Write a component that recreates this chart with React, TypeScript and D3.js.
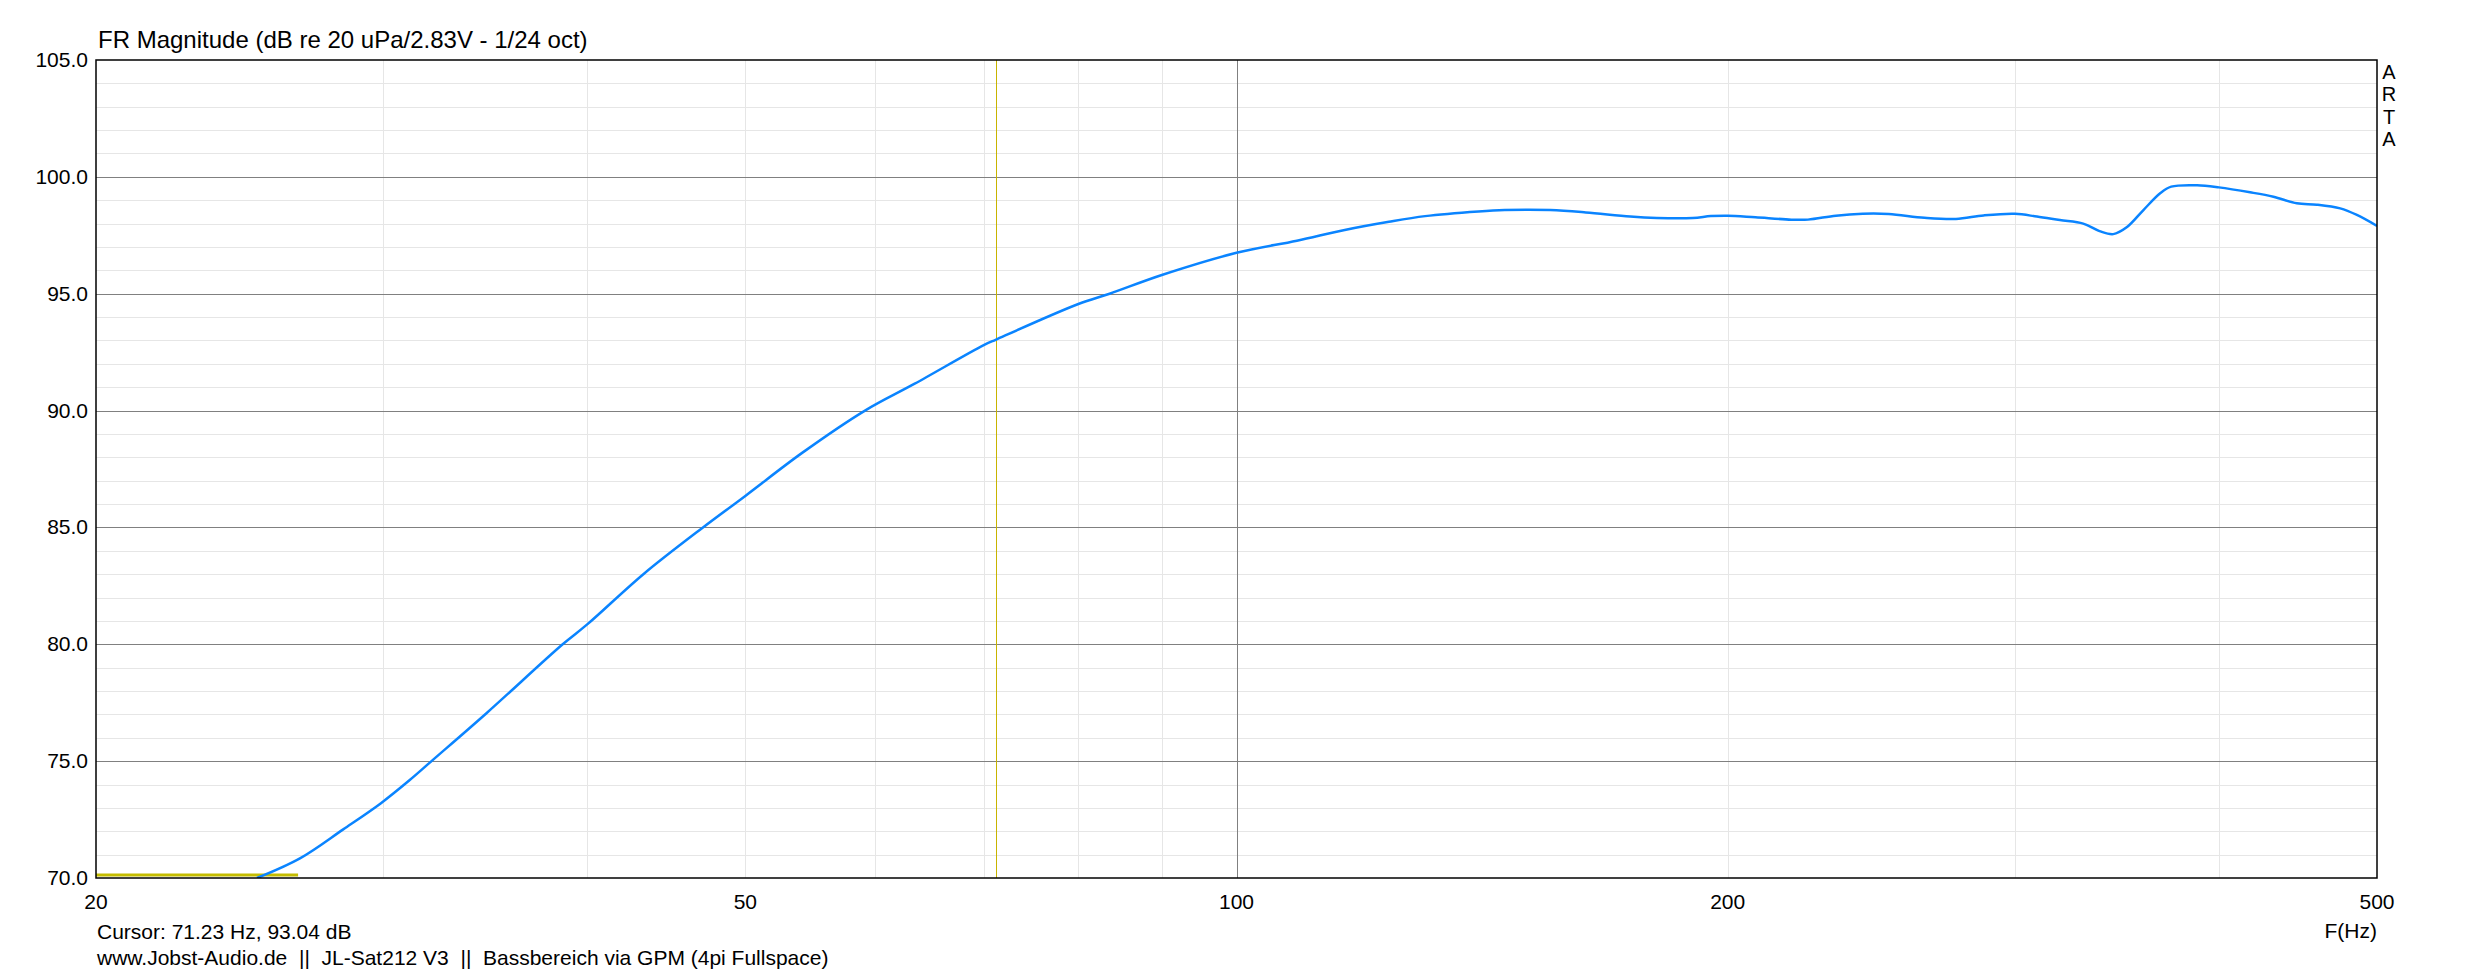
import React from "react";
import * as d3 from "d3";

const freqs = [25.1, 26.67, 28.35, 29.9, 31.14, 32.11, 34.7, 38.64, 40, 43.3, 47.1, 50, 54.2, 59.2, 63.5, 70, 71.23, 80, 83.6, 90, 100, 108.9, 116.5, 124, 130.5, 140.7, 146, 155.7, 163.7, 174.3, 181, 190.4, 195.3, 200, 208, 218.8, 224, 233, 242, 251, 264, 276, 287, 300, 309.4, 319.6, 330.3, 338, 344.6, 351.2, 359.6, 368.2, 374, 387.9, 400, 418, 432, 446.5, 459.3, 474.7, 486, 500];
const spl = [70.0, 70.84, 72.08, 73.2, 74.19, 75.0, 77.05, 80.0, 80.85, 83.0, 85.0, 86.35, 88.2, 90.0, 91.15, 92.8, 93.04, 94.56, 95.0, 95.8, 96.75, 97.27, 97.73, 98.08, 98.32, 98.52, 98.58, 98.58, 98.48, 98.3, 98.24, 98.24, 98.32, 98.34, 98.27, 98.17, 98.17, 98.34, 98.42, 98.41, 98.25, 98.2, 98.35, 98.42, 98.3, 98.15, 98.0, 97.68, 97.55, 97.84, 98.58, 99.3, 99.58, 99.64, 99.55, 99.34, 99.15, 98.87, 98.81, 98.65, 98.37, 97.9];

const xTickLabels = [20, 50, 100, 200, 500];
const xMajorGrid = [100];
const xMinorGrid = [30, 40, 50, 60, 70, 80, 90, 200, 300, 400];
const yTickLabels = [70, 75, 80, 85, 90, 95, 100, 105];
const yMinorGrid = d3.range(71, 105);
const cursorFreq = [71.23];
const cursorBandFreqs = [20, 26.6];
const cursorBandLevel = [70.13];
const sideLetters = ["A", "R", "T", "A"];

const title = "FR Magnitude (dB re 20 uPa/2.83V - 1/24 oct)";
const cursorText = "Cursor: 71.23 Hz, 93.04 dB";
const footerText = "www.Jobst-Audio.de  ||  JL-Sat212 V3  ||  Bassbereich via GPM (4pi Fullspace)";
const xAxisName = "F(Hz)";

const W = 2473, H = 978;
const L = 96, R = 2377, T = 60, B = 878;
const FONT = "'Liberation Sans', Arial, sans-serif";

export default function App() {
  const x = d3.scaleLog().domain([20, 500]).range([L, R]);
  const y = d3.scaleLinear().domain([70, 105]).range([B, T]);
  const pts: [number, number][] = freqs.map((f, i) => [f, spl[i]]);
  const line = d3
    .line<[number, number]>()
    .x((d) => x(d[0]))
    .y((d) => y(d[1]))
    .curve(d3.curveCatmullRom.alpha(0.5));
  const isMajorY = (v: number) => v % 5 === 0;

  return (
    <svg width={W} height={H} style={{ position: "absolute", left: 0, top: 0, background: "#fff" }} fontFamily={FONT}>
      <defs>
        <clipPath id="plot">
          <rect x={L} y={T} width={R - L} height={B - T} />
        </clipPath>
      </defs>
      <rect x={0} y={0} width={W} height={H} fill="#fff" />
      {yMinorGrid.filter((v) => !isMajorY(v)).map((v) => (
        <line key={"ym" + v} x1={L} x2={R} y1={Math.round(y(v)) + 0.5} y2={Math.round(y(v)) + 0.5} stroke="#e6e6e6" strokeWidth={1} />
      ))}
      {xMinorGrid.map((f) => (
        <line key={"xm" + f} x1={Math.round(x(f)) + 0.5} x2={Math.round(x(f)) + 0.5} y1={T} y2={B} stroke="#e6e6e6" strokeWidth={1} />
      ))}
      {yTickLabels.filter((v) => v > 70 && v < 105).map((v) => (
        <line key={"yM" + v} x1={L} x2={R} y1={Math.round(y(v)) + 0.5} y2={Math.round(y(v)) + 0.5} stroke="#808080" strokeWidth={1} />
      ))}
      {xMajorGrid.map((f) => (
        <line key={"xM" + f} x1={Math.round(x(f)) + 0.5} x2={Math.round(x(f)) + 0.5} y1={T} y2={B} stroke="#808080" strokeWidth={1} />
      ))}
      {cursorFreq.map((f) => (
        <line key={"cur" + f} x1={Math.round(x(f)) + 0.5} x2={Math.round(x(f)) + 0.5} y1={T} y2={B} stroke="#c8b400" strokeWidth={1} />
      ))}
      <line x1={x(cursorBandFreqs[0])} x2={x(cursorBandFreqs[1])} y1={y(cursorBandLevel[0])} y2={y(cursorBandLevel[0])} stroke="#c4bc00" strokeWidth={3} />
      <path d={line(pts) || ""} fill="none" stroke="#0a84ff" strokeWidth={2.5} clipPath="url(#plot)" strokeLinejoin="round" />
      <rect x={L} y={T} width={R - L} height={B - T} fill="none" stroke="#000" strokeWidth={1.5} />
      <text x={98} y={48} fontSize={24} fill="#000">{title}</text>
      {yTickLabels.map((v) => (
        <text key={"yl" + v} x={88} y={y(v) + 7} fontSize={21} textAnchor="end" fill="#000">{v.toFixed(1)}</text>
      ))}
      {xTickLabels.map((f) => (
        <text key={"xl" + f} x={x(f)} y={909} fontSize={21} textAnchor="middle" fill="#000">{f}</text>
      ))}
      <text x={R} y={938} fontSize={21} textAnchor="end" fill="#000">{xAxisName}</text>
      <text x={97} y={939} fontSize={21} fill="#000">{cursorText}</text>
      <text x={97} y={965} fontSize={21} fill="#000" style={{ whiteSpace: "pre" }}>{footerText}</text>
      {sideLetters.map((c, i) => (
        <text key={"s" + i} x={2389} y={79 + i * 22.3} fontSize={20} textAnchor="middle" fill="#000">{c}</text>
      ))}
    </svg>
  );
}
